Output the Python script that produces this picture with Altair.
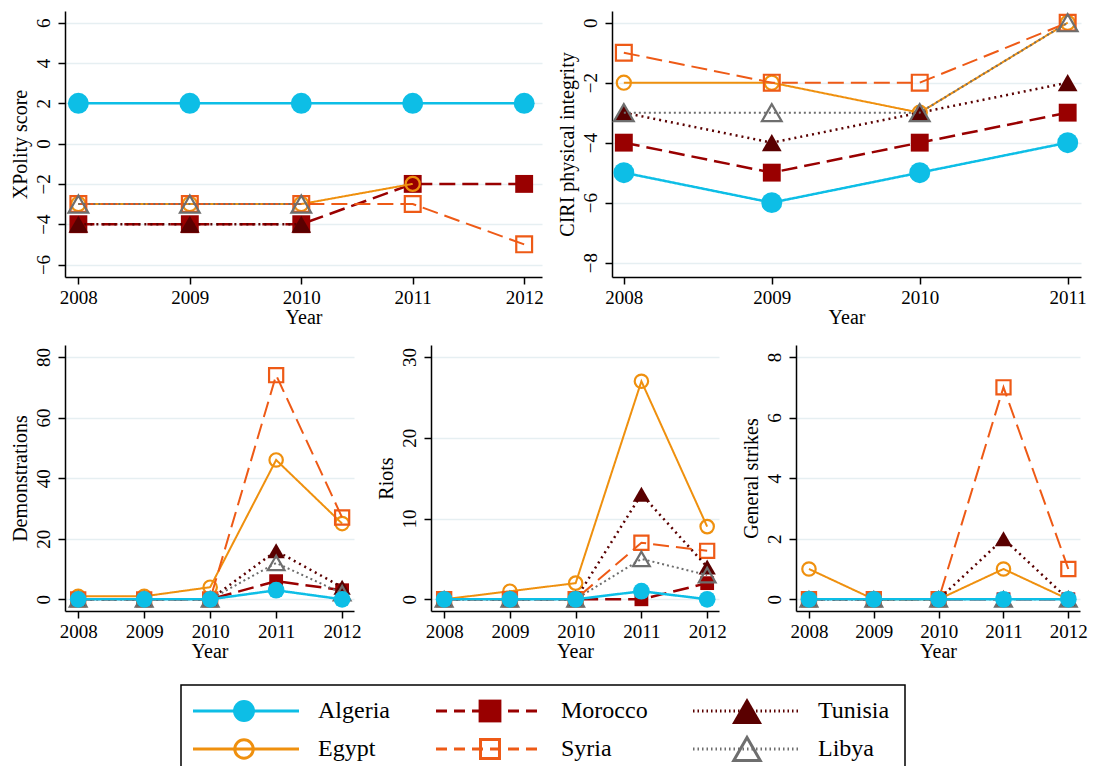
import altair as alt
import pandas as pd

years = [2008, 2009, 2010, 2011, 2012]
years_ciri = [2008, 2009, 2010, 2011]
countries = ["Algeria", "Egypt", "Morocco", "Syria", "Tunisia", "Libya"]
draw_order = ["Morocco", "Egypt", "Syria", "Tunisia", "Libya", "Algeria"]

xpolity = {
    "Algeria": [2, 2, 2, 2, 2],
    "Egypt": [-3, -3, -3, -2, None],
    "Morocco": [-4, -4, -4, -2, -2],
    "Syria": [-3, -3, -3, -3, -5],
    "Tunisia": [-4, -4, -4, None, None],
    "Libya": [-3, -3, -3, None, None],
}
ciri = {
    "Algeria": [-5, -6, -5, -4],
    "Egypt": [-2, -2, -3, 0],
    "Morocco": [-4, -5, -4, -3],
    "Syria": [-1, -2, -2, 0],
    "Tunisia": [-3, -4, -3, -2],
    "Libya": [-3, -3, -3, 0],
}
demonstrations = {
    "Algeria": [0, 0, 0, 3, 0],
    "Egypt": [1, 1, 4, 46, 25],
    "Morocco": [0, 0, 0, 6, 3],
    "Syria": [0, 0, 0, 74, 27],
    "Tunisia": [0, 0, 0, 16, 4],
    "Libya": [0, 0, 0, 12, 2],
}
riots = {
    "Algeria": [0, 0, 0, 1, 0],
    "Egypt": [0, 1, 2, 27, 9],
    "Morocco": [0, 0, 0, 0, 2],
    "Syria": [0, 0, 0, 7, 6],
    "Tunisia": [0, 0, 0, 13, 4],
    "Libya": [0, 0, 0, 5, 3],
}
strikes = {
    "Algeria": [0, 0, 0, 0, 0],
    "Egypt": [1, 0, 0, 1, 0],
    "Morocco": [0, 0, 0, 0, 0],
    "Syria": [0, 0, 0, 7, 1],
    "Tunisia": [0, 0, 0, 2, 0],
    "Libya": [0, 0, 0, 0, 0],
}

# legend: Stata fills the 3 columns row-wise
legend_order = ["Algeria", "Morocco", "Tunisia", "Egypt", "Syria", "Libya"]

colors = {"Algeria": "#0DBEE6", "Egypt": "#EF900E", "Morocco": "#990000",
          "Syria": "#EE5A16", "Tunisia": "#5A0000", "Libya": "#6E6E6E"}
dashes = {"Algeria": [1, 0], "Egypt": [1, 0], "Morocco": [16, 7],
          "Syria": [16, 7], "Tunisia": [2, 4], "Libya": [2, 3]}
leg_dashes = {"Algeria": [1, 0], "Egypt": [1, 0], "Morocco": [11, 7],
              "Syria": [11, 7], "Tunisia": [1.5, 3], "Libya": [1.5, 3]}
widths = {"Algeria": 2.5, "Egypt": 2, "Morocco": 2.5, "Syria": 2,
          "Tunisia": 2.5, "Libya": 2}
shapes = {"Algeria": "circle", "Egypt": "circle", "Morocco": "square",
          "Syria": "square", "Tunisia": "triangle-up", "Libya": "triangle-up"}
filled = {"Algeria": True, "Egypt": False, "Morocco": True, "Syria": False,
          "Tunisia": True, "Libya": False}
size_top = {"Algeria": 440, "Egypt": 200, "Morocco": 320, "Syria": 250,
            "Tunisia": 390, "Libya": 390}
size_bot = {"Algeria": 280, "Egypt": 180, "Morocco": 190, "Syria": 200,
            "Tunisia": 300, "Libya": 280}
size_leg = {"Algeria": 480, "Egypt": 340, "Morocco": 520, "Syria": 360,
            "Tunisia": 900, "Libya": 700}

FONT = "Liberation Serif"
GRID = "#E6EFF2"


def panel(values, yrs, ydom, yticks, xdom, ytitle, w, h, sizes):
    layers = []
    for c in draw_order:
        rows = [{"year": yy, "value": v} for yy, v in zip(yrs, values[c]) if v is not None]
        df = pd.DataFrame(rows)
        base = alt.Chart(df).encode(
            x=alt.X("year:Q", scale=alt.Scale(domain=xdom, nice=False, zero=False),
                    axis=alt.Axis(values=yrs, format="d", title="Year", grid=False,
                                  labelFlush=False, titlePadding=0, labelPadding=4)),
            y=alt.Y("value:Q", scale=alt.Scale(domain=ydom, nice=False, zero=False),
                    axis=alt.Axis(values=yticks, title=ytitle, grid=True, labelAngle=270,
                                  labelAlign="center", labelBaseline="bottom",
                                  labelPadding=5, titleAngle=270, titleAlign="center",
                                  titleBaseline="bottom", titleX=-35, titleY=h / 2)),
        )
        line = base.mark_line(color=colors[c], strokeDash=dashes[c], strokeWidth=widths[c])
        if filled[c]:
            pt = base.mark_point(shape=shapes[c], filled=True, fill=colors[c], color=colors[c],
                                 size=sizes[c], opacity=1, strokeWidth=0)
        else:
            pt = base.mark_point(shape=shapes[c], filled=False, color=colors[c],
                                 size=sizes[c], opacity=1, strokeWidth=2.2)
        layers += [line, pt]
    return alt.layer(*layers).properties(width=w, height=h)


p1 = panel(xpolity, years, [-6.62, 6.58], [-6, -4, -2, 0, 2, 4, 6], [2007.88, 2012.16],
           "XPolity score", 477, 266, size_top)
p2 = panel(ciri, years_ciri, [-8.48, 0.39], [-8, -6, -4, -2, 0], [2007.92, 2011.09],
           "CIRI physical integrity", 469, 266, size_top)
p3 = panel(demonstrations, years, [-3.86, 83.96], [0, 20, 40, 60, 80], [2007.8, 2012.18],
           "Demonstrations", 289, 266, size_bot)
p4 = panel(riots, years, [-1.45, 31.49], [0, 10, 20, 30], [2007.8, 2012.18],
           "Riots", 288, 266, size_bot)
p5 = panel(strikes, years, [-0.387, 8.397], [0, 2, 4, 6, 8], [2007.8, 2012.18],
           "General strikes", 284, 266, size_bot)

# ---- legend panel (layout in legend pixel units, origin = left edge of the plots) ----
LEG_W, LEG_H = 1000, 82
leg_box = [116, 840]          # left/right of the legend frame
leg_line_start = [128, 371, 628]
leg_line_end = [234, 478, 735]
leg_marker_x = [179, 425, 682]
leg_text_x = [253, 496, 753]
leg_row_y = [27, 65]

leg_rows = []
for i, c in enumerate(legend_order):
    col, row = i % 3, i // 3
    leg_rows.append({"country": c, "x1": leg_line_start[col], "x2": leg_line_end[col],
                     "xm": leg_marker_x[col], "xt": leg_text_x[col], "y": leg_row_y[row]})
leg_df = pd.DataFrame(leg_rows)
lx = alt.Scale(domain=[0, LEG_W], nice=False, zero=False)
ly = alt.Scale(domain=[LEG_H, 0], nice=False, zero=False)

frame = alt.Chart(pd.DataFrame({"a": [leg_box[0]], "b": [leg_box[1]], "t": [1], "u": [LEG_H + 20]})
                  ).mark_rect(fill=None, stroke="black", strokeWidth=1.5, clip=True).encode(
    x=alt.X("a:Q", scale=lx, axis=None), x2="b:Q",
    y=alt.Y("t:Q", scale=ly, axis=None), y2="u:Q")
leg_layers = [frame]
for c in legend_order:
    d = leg_df[leg_df.country == c]
    rule = alt.Chart(d).mark_rule(color=colors[c], strokeDash=leg_dashes[c],
                                  strokeWidth=3).encode(
        x=alt.X("x1:Q", scale=lx, axis=None), x2="x2:Q",
        y=alt.Y("y:Q", scale=ly, axis=None))
    if filled[c]:
        pt = alt.Chart(d).mark_point(shape=shapes[c], filled=True, fill=colors[c],
                                     size=size_leg[c], opacity=1, strokeWidth=0)
    else:
        pt = alt.Chart(d).mark_point(shape=shapes[c], filled=False, color=colors[c],
                                     size=size_leg[c], opacity=1, strokeWidth=3)
    pt = pt.encode(x=alt.X("xm:Q", scale=lx, axis=None), y=alt.Y("y:Q", scale=ly, axis=None))
    txt = alt.Chart(d).mark_text(align="left", baseline="middle", font=FONT, fontSize=24,
                                 color="black").encode(
        x=alt.X("xt:Q", scale=lx, axis=None), y=alt.Y("y:Q", scale=ly, axis=None),
        text="country:N")
    leg_layers += [rule, pt, txt]
legend = alt.layer(*leg_layers).properties(width=LEG_W, height=LEG_H)

top = alt.hconcat(p1, p2, spacing=12)
bottom = alt.hconcat(p3, p4, p5, spacing=14)
panels = alt.vconcat(top, bottom, spacing=18)
chart = alt.vconcat(panels, legend, spacing=23).properties(
    padding={"left": 2, "top": 1, "right": 0, "bottom": 0}
).configure_view(stroke=None).configure_axis(
    labelFont=FONT, titleFont=FONT, labelFontSize=19, titleFontSize=20,
    labelColor="black", titleColor="black", titleFontWeight="normal",
    domainColor="black", domainWidth=1.5, tickColor="black", tickWidth=1.5,
    tickSize=7, gridColor=GRID, gridWidth=1.5
).configure_text(font=FONT)

chart.save("out.html", embed_options={"renderer": "svg", "actions": False})
